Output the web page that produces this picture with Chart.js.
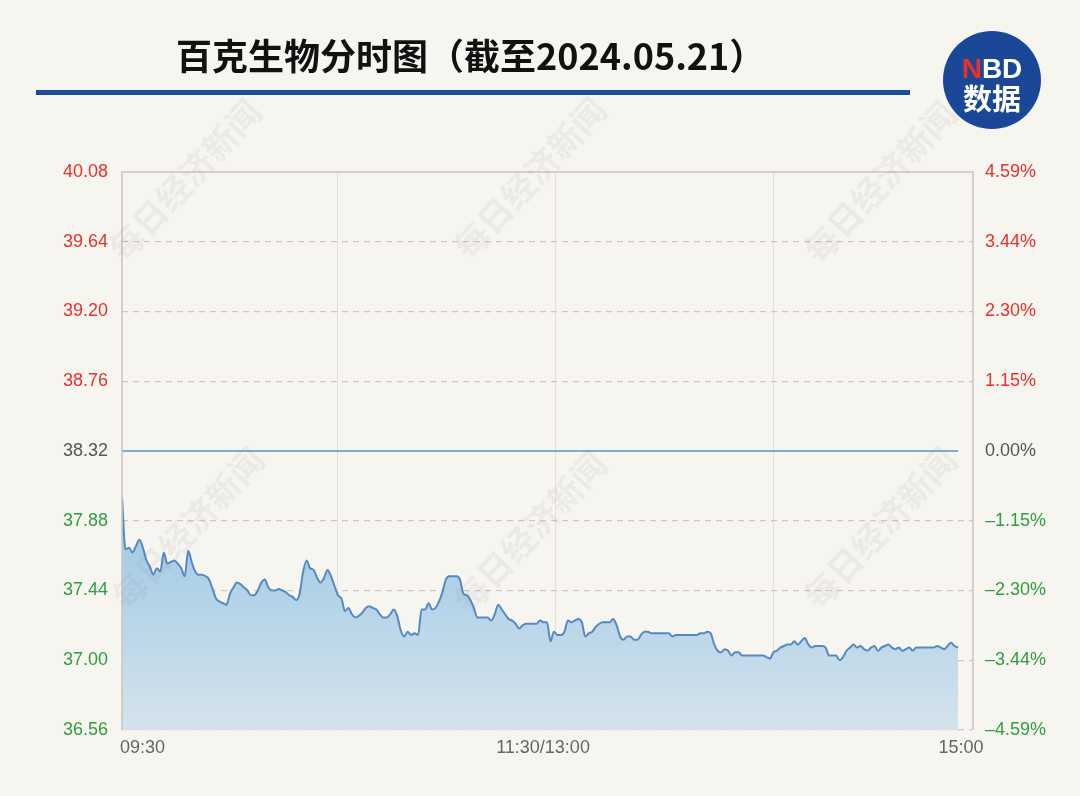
<!DOCTYPE html>
<html>
<head>
<meta charset="utf-8">
<script src="https://cdn.jsdelivr.net/npm/chart.js@4.4.1/dist/chart.umd.min.js"></script>
<style>
html, body { margin: 0; padding: 0; background: #f7f5f0; }
</style>
</head>
<body>
<canvas id="myChart" width="1080" height="796"></canvas>
<script>
let title = "百克生物分时图（截至2024.05.21）";
let watermark = "每日经济新闻";
let prevClose = 38.32;
let yTicks = [40.08, 39.64, 39.20, 38.76, 38.32, 37.88, 37.44, 37.00, 36.56];
let pctTicks = ["4.59%", "3.44%", "2.30%", "1.15%", "0.00%", "–1.15%", "–2.30%", "–3.44%", "–4.59%"];
let timeLabels = ["09:30", "11:30/13:00", "15:00"];
let timeLabelMinutes = [0, 120, 240];
let gridMinutes = [62, 124.5, 187];

// one price per minute, 09:30 .. 15:00
let prices = [
  38.03, 37.70, 37.71, 37.68, 37.72, 37.76, 37.71, 37.63, 37.59, 37.54,
  37.58, 37.56, 37.68, 37.61, 37.62, 37.63, 37.61, 37.58, 37.53, 37.69,
  37.62, 37.56, 37.54, 37.54, 37.53, 37.51, 37.45, 37.39, 37.37, 37.36,
  37.35, 37.42, 37.46, 37.49, 37.48, 37.46, 37.44, 37.41, 37.41, 37.44,
  37.49, 37.51, 37.46, 37.44, 37.44, 37.45, 37.44, 37.43, 37.41, 37.40,
  37.38, 37.42, 37.56, 37.63, 37.58, 37.57, 37.52, 37.49, 37.52, 37.57,
  37.53, 37.47, 37.41, 37.39, 37.31, 37.33, 37.29, 37.27, 37.28, 37.30,
  37.33, 37.34, 37.33, 37.32, 37.29, 37.27, 37.27, 37.29, 37.32, 37.28,
  37.19, 37.15, 37.18, 37.16, 37.17, 37.16, 37.32, 37.32, 37.36, 37.32,
  37.33, 37.37, 37.43, 37.51, 37.53, 37.53, 37.53, 37.51, 37.42, 37.41,
  37.38, 37.33, 37.27, 37.27, 37.27, 37.27, 37.25, 37.29, 37.35, 37.32,
  37.29, 37.26, 37.25, 37.23, 37.20, 37.22, 37.23, 37.23, 37.23, 37.23,
  37.25, 37.24, 37.24, 37.12, 37.18, 37.16, 37.16, 37.18, 37.25, 37.24,
  37.25, 37.26, 37.24, 37.15, 37.17, 37.18, 37.21, 37.23, 37.24, 37.24,
  37.24, 37.26, 37.22, 37.15, 37.13, 37.15, 37.15, 37.13, 37.13, 37.16,
  37.18, 37.18, 37.17, 37.17, 37.17, 37.17, 37.17, 37.17, 37.15, 37.16,
  37.16, 37.16, 37.16, 37.16, 37.16, 37.16, 37.17, 37.17, 37.18, 37.17,
  37.10, 37.06, 37.05, 37.07, 37.06, 37.03, 37.05, 37.05, 37.03, 37.03,
  37.03, 37.03, 37.03, 37.03, 37.03, 37.02, 37.01, 37.05, 37.06, 37.08,
  37.09, 37.10, 37.10, 37.12, 37.10, 37.12, 37.14, 37.10, 37.08, 37.09,
  37.09, 37.09, 37.08, 37.03, 37.03, 37.03, 37.00, 37.02, 37.06, 37.08,
  37.10, 37.08, 37.09, 37.07, 37.06, 37.08, 37.09, 37.06, 37.08, 37.09,
  37.10, 37.08, 37.07, 37.08, 37.06, 37.07, 37.08, 37.06, 37.08, 37.08,
  37.08, 37.08, 37.08, 37.08, 37.09, 37.08, 37.07, 37.09, 37.11, 37.09,
  37.08
];

let red = "#e8302c";
let green = "#2f9e3f";
let grey = "#555555";
let tickFont = { family: "'Liberation Sans', Arial, sans-serif", size: 18 };

function tickColor(v) {
  if (Math.abs(v - prevClose) < 0.001) return grey;
  return v > prevClose ? red : green;
}

let pricePoints = prices.map((p, i) => ({ x: i, y: p }));
let closePoints = [{ x: 0, y: prevClose }, { x: prices.length - 1, y: prevClose }];

let decor = {
  id: "decor",
  beforeDraw(chart) {
    let c = chart.ctx;
    c.save();
    c.fillStyle = "#f7f5f0";
    c.fillRect(0, 0, chart.width, chart.height);

    c.fillStyle = "#111";
    c.font = "bold 36px 'Noto Sans CJK SC'";
    c.textBaseline = "middle";
    c.textAlign = "left";
    c.fillText(title, 176, 56);

    c.fillStyle = "#1d4d9a";
    c.fillRect(36, 90, 874, 5);

    // logo
    c.beginPath();
    c.arc(992, 80, 49, 0, Math.PI * 2);
    c.fillStyle = "#1b4896";
    c.fill();
    c.textAlign = "left";
    c.font = "bold 28px 'Liberation Sans', Arial, sans-serif";
    let wN = c.measureText("N").width;
    let wBD = c.measureText("BD").width;
    let sx = 992 - (wN + wBD) / 2;
    c.fillStyle = red;
    c.fillText("N", sx, 70);
    c.fillStyle = "#fff";
    c.fillText("BD", sx + wN, 70);
    c.textAlign = "center";
    c.font = "bold 29px 'Noto Sans CJK SC'";
    c.fillText("数据", 992, 99);
    c.restore();
  },
  afterDatasetsDraw(chart) {
    let c = chart.ctx;
    let a = chart.chartArea;
    c.save();
    c.strokeStyle = "#c9c5bf";
    c.lineWidth = 1.5;
    c.beginPath();
    c.moveTo(a.left, a.bottom);
    c.lineTo(a.left, a.top);
    c.lineTo(a.right, a.top);
    c.lineTo(a.right, a.bottom);
    c.stroke();

    // watermarks
    c.fillStyle = "rgba(110,110,110,0.08)";
    c.font = "bold 34px 'Noto Sans CJK SC'";
    c.textAlign = "center";
    c.textBaseline = "middle";
    [[185, 180], [530, 178], [880, 182], [188, 528], [530, 532], [880, 528]].forEach(p => {
      c.save();
      c.translate(p[0], p[1]);
      c.rotate(-47 * Math.PI / 180);
      c.fillText(watermark, 0, 0);
      c.restore();
    });

    // time labels
    let xs = chart.scales.x;
    c.fillStyle = "#666";
    c.font = "18px 'Liberation Sans', Arial, sans-serif";
    timeLabels.forEach((t, i) => {
      let px = xs.getPixelForValue(timeLabelMinutes[i]);
      c.textAlign = i === 0 ? "left" : "center";
      c.fillText(t, i === 0 ? px - 2 : px + 3, a.bottom + 18);
    });
    c.restore();
  }
};

let myChart = document.getElementById("myChart").getContext("2d");

let chart = new Chart(myChart, {
  type: "line",
  data: {
    datasets: [{
      data: pricePoints,
      borderColor: "#5589c2",
      borderWidth: 2,
      pointRadius: 0,
      cubicInterpolationMode: "monotone",
      fill: "start",
      backgroundColor: ctx => {
        let a = ctx.chart.chartArea;
        if (!a) return "#b8d4e6";
        let g = ctx.chart.ctx.createLinearGradient(0, 500, 0, a.bottom);
        g.addColorStop(0, "#9cc7e6");
        g.addColorStop(1, "#d4e3eb");
        return g;
      },
      yAxisID: "y"
    }, {
      data: closePoints,
      borderColor: "#5b92c9",
      borderWidth: 1.5,
      pointRadius: 0,
      fill: false,
      yAxisID: "y"
    }]
  },
  options: {
    responsive: false,
    animation: false,
    layout: { padding: { top: 172, left: 0, right: 0, bottom: 0 } },
    plugins: { legend: { display: false }, tooltip: { enabled: false } },
    scales: {
      x: {
        type: "linear",
        min: 0,
        max: 244.3,
        afterBuildTicks: s => { s.ticks = gridMinutes.map(v => ({ value: v })); },
        afterFit: s => { s.height = 66; },
        ticks: { display: false },
        grid: { color: "#e4e0da", lineWidth: 1, drawTicks: false },
        border: { display: false }
      },
      y: {
        position: "left",
        min: 36.56,
        max: 40.08,
        afterBuildTicks: s => { s.ticks = yTicks.map(v => ({ value: v })); },
        afterFit: s => { s.width = 122; },
        ticks: {
          color: ctx => tickColor(ctx.tick.value),
          font: tickFont,
          padding: 14,
          callback: v => v.toFixed(2)
        },
        grid: {
          drawTicks: false,
          color: ctx => {
            let v = ctx.tick.value;
            if (Math.abs(v - prevClose) < 0.001 || Math.abs(v - 40.08) < 0.001) return "rgba(0,0,0,0)";
            return "#cdc8c1";
          },
          lineWidth: 1.2
        },
        border: { display: false, dash: [6, 5] }
      },
      y2: {
        position: "right",
        min: 36.56,
        max: 40.08,
        afterBuildTicks: s => { s.ticks = yTicks.map(v => ({ value: v })); },
        afterFit: s => { s.width = 107; },
        ticks: {
          color: ctx => tickColor(ctx.tick.value),
          font: tickFont,
          padding: 12,
          callback: (v, i) => pctTicks[i]
        },
        grid: { display: false, drawTicks: false },
        border: { display: false }
      }
    }
  },
  plugins: [decor]
});
</script>
</body>
</html>
